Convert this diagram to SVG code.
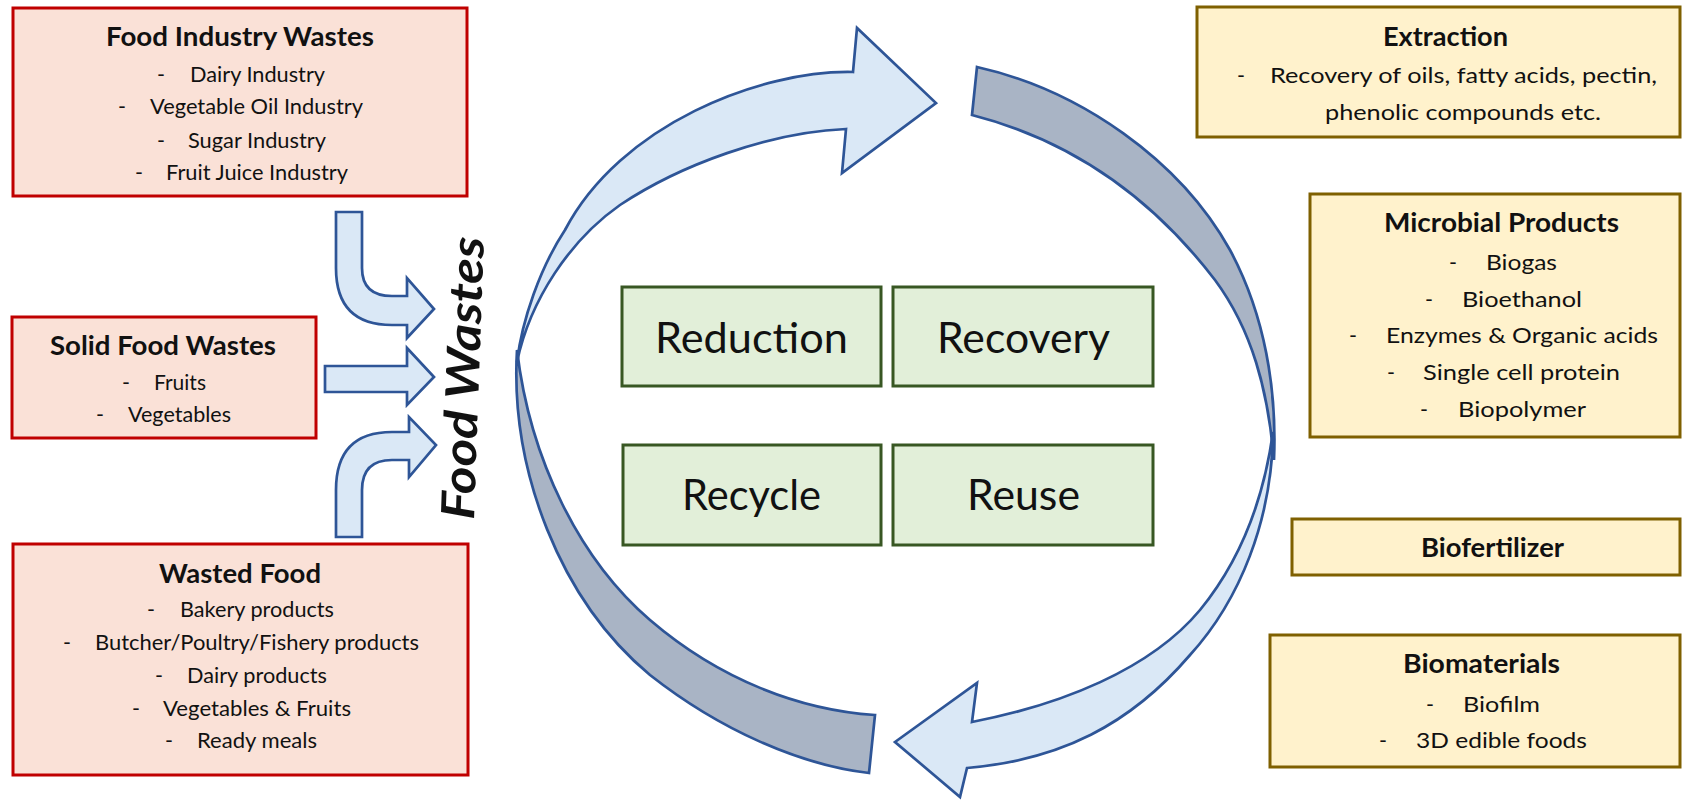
<svg xmlns="http://www.w3.org/2000/svg" width="1683" height="809" viewBox="0 0 1683 809">
<style>
.red{fill:#fae1d7;stroke:#c00000;stroke-width:3}
.yel{fill:#fff2cc;stroke:#7f6000;stroke-width:3}
.grn{fill:#e2efd9;stroke:#385723;stroke-width:3}
.arB{fill:#dae8f6;stroke:#2e5597;stroke-width:2.7;stroke-linejoin:miter}
.arG{fill:#a9b4c5;stroke:#2e5597;stroke-width:2.7}
text{font-family:Lato,"Noto Sans","Liberation Sans",sans-serif;fill:#111}
.ti{font-weight:bold;font-size:26.5px;text-anchor:middle}
.it{font-size:21.5px;text-anchor:middle}
.d{font-size:21.5px}
.big{font-size:42px;text-anchor:middle}
.fw{font-weight:bold;font-style:italic;font-size:46px}
</style>
<rect width="1683" height="809" fill="#ffffff"/>
<g id="connectors">
<path class="arG" d="M517,350 C510,470 560,600 650,675 C720,730 800,765 869,773 L875,715 C800,710 720,680 650,620 C580,560 530,460 517,350 Z"/>
<path class="arB" d="M853,72 L857,28 L936,103 L842,173 L846,129 C770,132 680,165 620,205 C570,240 530,300 517,362 C522,320 540,268 565,230 C620,125 760,70 853,72 Z"/>
<path class="arG" d="M977,67 C1080,90 1180,160 1230,250 C1265,315 1277,390 1274,460 C1268,390 1252,330 1215,280 C1150,195 1070,140 972,115 Z"/>
<path class="arB" d="M972,722 C1060,705 1150,670 1200,610 C1245,555 1265,490 1273,432 C1272,520 1240,600 1190,655 C1130,725 1060,760 967,768 L960,797 L895,742 L977,683 Z"/>
<path class="arB" d="M336,212 H362 V268 Q362,296 392,296 H407 V278 L434,309 L407,338 V325 H392 Q336,325 336,268 Z"/>
<path class="arB" d="M325,366 H407 V348 L434,377 L407,405 V392 H325 Z"/>
<path class="arB" d="M336,537 H362 V490 Q362,460 392,460 H409 V477 L436,445 L409,417 V432 H392 Q336,432 336,490 Z"/>
</g>
<g id="food-wastes-label">
<text class="fw" transform="translate(474,520) rotate(-88)" textLength="283" lengthAdjust="spacingAndGlyphs">Food Wastes</text>
</g>
<g id="food-industry-wastes">
<rect class="red" x="13" y="8" width="454" height="188"/>
<text class="ti" x="240" y="46" textLength="268" lengthAdjust="spacingAndGlyphs">Food Industry Wastes</text>
<text class="d" x="157" y="82">-</text><text class="it" x="257.5" y="82" textLength="135" lengthAdjust="spacingAndGlyphs">Dairy Industry</text>
<text class="d" x="118" y="114">-</text><text class="it" x="256.5" y="114" textLength="213" lengthAdjust="spacingAndGlyphs">Vegetable Oil Industry</text>
<text class="d" x="157" y="148">-</text><text class="it" x="257" y="148" textLength="138" lengthAdjust="spacingAndGlyphs">Sugar Industry</text>
<text class="d" x="135" y="180">-</text><text class="it" x="257" y="180" textLength="182" lengthAdjust="spacingAndGlyphs">Fruit Juice Industry</text>
</g>
<g id="solid-food-wastes">
<rect class="red" x="12" y="317" width="304" height="121"/>
<text class="ti" x="163" y="355" textLength="226" lengthAdjust="spacingAndGlyphs">Solid Food Wastes</text>
<text class="d" x="122" y="390">-</text><text class="it" x="180" y="390" textLength="52" lengthAdjust="spacingAndGlyphs">Fruits</text>
<text class="d" x="96" y="422">-</text><text class="it" x="179.5" y="422" textLength="103" lengthAdjust="spacingAndGlyphs">Vegetables</text>
</g>
<g id="wasted-food">
<rect class="red" x="13" y="544" width="455" height="231"/>
<text class="ti" x="240" y="583" textLength="162" lengthAdjust="spacingAndGlyphs">Wasted Food</text>
<text class="d" x="147" y="617">-</text><text class="it" x="257" y="617" textLength="154" lengthAdjust="spacingAndGlyphs">Bakery products</text>
<text class="d" x="63" y="650">-</text><text class="it" x="257" y="650" textLength="324" lengthAdjust="spacingAndGlyphs">Butcher/Poultry/Fishery products</text>
<text class="d" x="155" y="683">-</text><text class="it" x="257" y="683" textLength="140" lengthAdjust="spacingAndGlyphs">Dairy products</text>
<text class="d" x="132" y="716">-</text><text class="it" x="257" y="716" textLength="188" lengthAdjust="spacingAndGlyphs">Vegetables &amp; Fruits</text>
<text class="d" x="165" y="748">-</text><text class="it" x="257" y="748" textLength="120" lengthAdjust="spacingAndGlyphs">Ready meals</text>
</g>
<g id="reduction">
<rect class="grn" x="622" y="287" width="259" height="99"/>
<text class="big" x="751.5" y="353" textLength="193" lengthAdjust="spacingAndGlyphs">Reduction</text>
</g>
<g id="recovery">
<rect class="grn" x="893" y="287" width="260" height="99"/>
<text class="big" x="1023.5" y="353" textLength="173" lengthAdjust="spacingAndGlyphs">Recovery</text>
</g>
<g id="recycle">
<rect class="grn" x="623" y="445" width="258" height="100"/>
<text class="big" x="751.5" y="510" textLength="139" lengthAdjust="spacingAndGlyphs">Recycle</text>
</g>
<g id="reuse">
<rect class="grn" x="893" y="445" width="260" height="100"/>
<text class="big" x="1023.5" y="510" textLength="113" lengthAdjust="spacingAndGlyphs">Reuse</text>
</g>
<g id="extraction">
<rect class="yel" x="1197" y="7" width="483" height="130"/>
<text class="ti" x="1445.5" y="46" textLength="125" lengthAdjust="spacingAndGlyphs">Extraction</text>
<text class="d" x="1237" y="83">-</text><text class="it" x="1463.5" y="83" textLength="387" lengthAdjust="spacingAndGlyphs">Recovery of oils, fatty acids, pectin,</text>
<text class="it" x="1463" y="120" textLength="276" lengthAdjust="spacingAndGlyphs">phenolic compounds etc.</text>
</g>
<g id="microbial-products">
<rect class="yel" x="1310" y="194" width="370" height="243"/>
<text class="ti" x="1501.5" y="232" textLength="235" lengthAdjust="spacingAndGlyphs">Microbial Products</text>
<text class="d" x="1449" y="270">-</text><text class="it" x="1521.5" y="270" textLength="71" lengthAdjust="spacingAndGlyphs">Biogas</text>
<text class="d" x="1425" y="307">-</text><text class="it" x="1522" y="307" textLength="120" lengthAdjust="spacingAndGlyphs">Bioethanol</text>
<text class="d" x="1349" y="343">-</text><text class="it" x="1522" y="343" textLength="272" lengthAdjust="spacingAndGlyphs">Enzymes &amp; Organic acids</text>
<text class="d" x="1387" y="380">-</text><text class="it" x="1521.5" y="380" textLength="197" lengthAdjust="spacingAndGlyphs">Single cell protein</text>
<text class="d" x="1420" y="417">-</text><text class="it" x="1522" y="417" textLength="128" lengthAdjust="spacingAndGlyphs">Biopolymer</text>
</g>
<g id="biofertilizer">
<rect class="yel" x="1292" y="519" width="388" height="56"/>
<text class="ti" x="1492.5" y="557" textLength="143" lengthAdjust="spacingAndGlyphs">Biofertilizer</text>
</g>
<g id="biomaterials">
<rect class="yel" x="1270" y="635" width="410" height="132"/>
<text class="ti" x="1481.5" y="673" textLength="157" lengthAdjust="spacingAndGlyphs">Biomaterials</text>
<text class="d" x="1426" y="712">-</text><text class="it" x="1501.5" y="712" textLength="77" lengthAdjust="spacingAndGlyphs">Biofilm</text>
<text class="d" x="1379" y="748">-</text><text class="it" x="1501.5" y="748" textLength="171" lengthAdjust="spacingAndGlyphs">3D edible foods</text>
</g>
</svg>
